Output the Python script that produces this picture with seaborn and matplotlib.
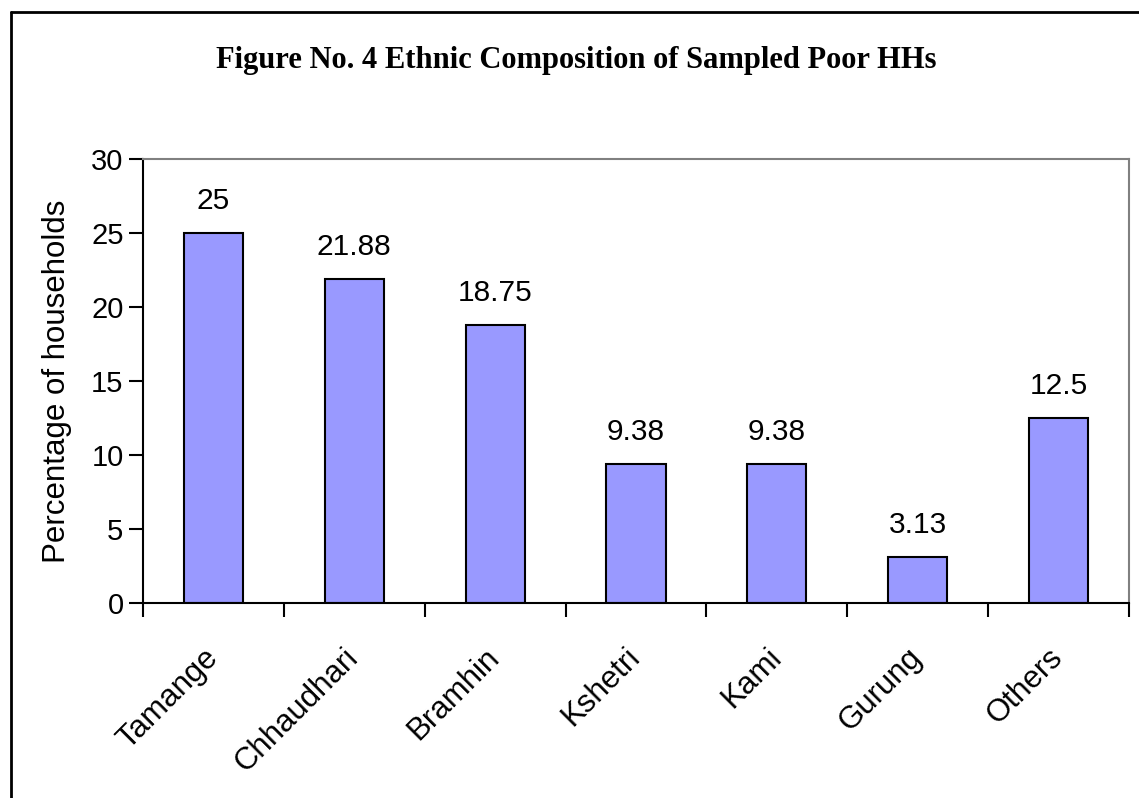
import matplotlib
matplotlib.use("Agg")
import matplotlib.pyplot as plt
from matplotlib.lines import Line2D
from matplotlib.ticker import FixedLocator
import seaborn as sns
import pandas as pd

# Ethnic groups and share of sampled poor households (%)
groups = ["Tamange", "Chhaudhari", "Bramhin", "Kshetri", "Kami", "Gurung", "Others"]
percent = [25, 21.88, 18.75, 9.38, 9.38, 3.13, 12.5]
value_labels = ["25", "21.88", "18.75", "9.38", "9.38", "3.13", "12.5"]
y_ticks = [0, 5, 10, 15, 20, 25, 30]

df = pd.DataFrame({"group": groups, "percent": percent})

sns.set_theme(style="white")
plt.rcParams["font.family"] = ["Liberation Sans", "DejaVu Sans"]
plt.rcParams.update({"text.color": "black", "axes.labelcolor": "black",
                     "xtick.color": "black", "ytick.color": "black"})

fig = plt.figure(figsize=(11.39, 7.98), dpi=100)
ax = fig.add_axes([0.1255, 0.2444, 0.9912 - 0.1255, 0.8008 - 0.2444])

sns.barplot(data=df, x="group", y="percent", order=groups, color="#9999FF",
            saturation=1, edgecolor="black", linewidth=1.5, width=0.42, ax=ax)

ax.set_xlim(-0.5, len(groups) - 0.5)
ax.set_ylim(0, 30)
ax.set_yticks(y_ticks)
ax.set_yticklabels([str(t) for t in y_ticks])

# category labels centred on bars, tick marks between categories
ax.xaxis.set_minor_locator(FixedLocator([i - 0.5 for i in range(len(groups) + 1)]))
ax.tick_params(axis="x", which="major", length=0, pad=36)
ax.tick_params(axis="x", which="minor", length=10, width=1.5, color="black",
               direction="out", bottom=True)
ax.tick_params(axis="y", which="major", length=10, width=1.5, color="black",
               direction="out", left=True, labelsize=21, pad=4)
ax.set_xticks(range(len(groups)))
ax.set_xticklabels(groups, rotation=45, ha="right", va="center",
                   rotation_mode="anchor", fontsize=22.5)

ax.set_xlabel("")
ax.set_ylabel("Percentage of households", fontsize=22.5, labelpad=14)

for side in ("left", "bottom"):
    ax.spines[side].set_color("black")
    ax.spines[side].set_linewidth(1.5)
for side in ("top", "right"):
    ax.spines[side].set_color("#808080")
    ax.spines[side].set_linewidth(1.5)

for i, (v, lab) in enumerate(zip(percent, value_labels)):
    ax.annotate(lab, xy=(i, v), xytext=(0, 13), textcoords="offset points",
                ha="center", va="bottom", fontsize=21.5)

fig.text(0.506, 0.924, "Figure No. 4 Ethnic Composition of Sampled Poor HHs",
         ha="center", va="center", fontsize=22, fontweight="bold",
         family=["Liberation Serif", "DejaVu Serif"])

# outer frame (left and top edges)
fig.add_artist(Line2D([0.0097, 0.0097], [0.0, 0.9845], transform=fig.transFigure,
                      color="black", linewidth=2))
fig.add_artist(Line2D([0.0097, 1.0], [0.9845, 0.9845], transform=fig.transFigure,
                      color="black", linewidth=2))

fig.savefig("out.png", dpi=100)
